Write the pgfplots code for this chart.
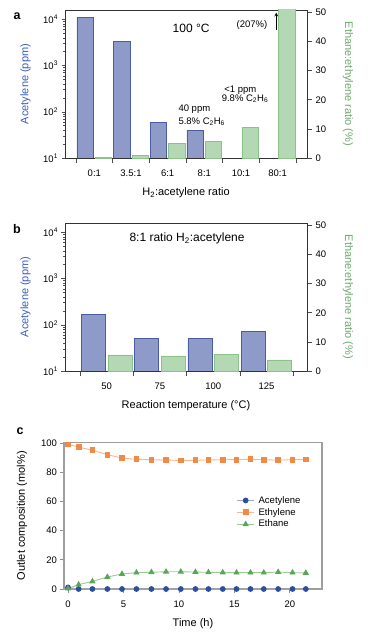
\documentclass[border=0pt]{standalone}
\usepackage{pgfplots}
\pgfplotsset{compat=1.18}
\usepackage{fontspec}
\setmainfont{Liberation Sans}
\definecolor{barblue}{HTML}{8E9BC8}
\definecolor{edgeblue}{HTML}{4B5CA5}
\definecolor{bargreen}{HTML}{B4D8B3}
\definecolor{edgegreen}{HTML}{8CC28A}
\definecolor{labblue}{HTML}{3A5DB9}
\definecolor{labgreen}{HTML}{6BAA6B}
\definecolor{cblue}{HTML}{2E4D9E}
\definecolor{cbluel}{HTML}{9DAAD6}
\definecolor{corange}{HTML}{F08A44}
\definecolor{corangel}{HTML}{F6B894}
\definecolor{cgreen}{HTML}{5BA55B}
\definecolor{cgreenl}{HTML}{9CCC94}
\newcommand{\tfont}{\fontsize{9.5}{11}\selectfont}
\newcommand{\lfont}{\fontsize{11}{13}\selectfont}
\pgfplotsset{
  barpanel/.style={scale only axis, width=242pt, height=148pt,
    axis line style={black!80, line width=0.6pt},
    tick style={black!70, line width=0.6pt}, tick align=outside,
    ticklabel style={font=\tfont},
    /pgf/number format/assume math mode=true, clip=true,
    label style={font=\lfont}},
  leftlabel/.style={ylabel={Acetylene (ppm)},
    ylabel style={at={(rel axis cs:-0.163,0.5)}, anchor=center, color=labblue}},
  rightlin/.style={ymin=0, ymax=50.8, axis x line*=bottom, axis y line*=right,
    ytick={0,10,...,50}, major tick length=5pt,
    x tick label as interval,
    xticklabel style={yshift=-3pt},
    xlabel style={at={(rel axis cs:0.5,-0.236)}, anchor=center},
    ylabel={Ethane:ethylene ratio (\%)},
    ylabel style={at={(rel axis cs:1.169,0.5)}, anchor=center, rotate=180, color=labgreen}},
  bblue/.style={ybar, bar width=0.45, bar shift=-0.25, fill=barblue, draw=edgeblue, line width=0.7pt},
  bgreen/.style={ybar, bar width=0.45, bar shift=0.25, fill=bargreen, draw=edgegreen, line width=0.7pt},
}
\begin{document}
\begin{tikzpicture}
\path[use as bounding box] (0,0) rectangle (367pt,-636pt);
% ---------- panel a ----------
\begin{axis}[barpanel, leftlabel, at={(65pt,-10pt)}, anchor=north west,
  ymode=log, ymin=10, ymax=16000,
  ytick={10,100,1000,10000},
  yticklabels={10\textsuperscript{1},10\textsuperscript{2},10\textsuperscript{3},10\textsuperscript{4}},
  ytick pos=left, major tick length=3.5pt, minor tick length=2pt,
  xmin=-0.8, xmax=5.8, xtick=\empty]
\addplot[bblue] coordinates {(0,11000) (1,3400) (2,59) (3,39)};
\end{axis}
\begin{axis}[barpanel, rightlin, at={(65pt,-10pt)}, anchor=north west,
  xmin=-0.8, xmax=5.8,
  xtick={-0.5,0.5,...,5.5}, xticklabels={0:1,3.5:1,6:1,8:1,10:1,80:1},
  xlabel={H\textsubscript{2}:acetylene ratio}]
\addplot[bgreen] coordinates {(0,0.3) (1,1.0) (2,5.0) (3,5.7) (4,10.5) (5,207)};
\node[font=\fontsize{12}{14}\selectfont] at (axis cs:2.64,44.6) {100 °C};
\node[font=\tfont] at (axis cs:4.3,45.6) {(207\%)};
\draw[-stealth, line width=0.7pt] (axis cs:4.96,43.8) -- (axis cs:4.96,49.9);
\node[font=\tfont, anchor=west] at (axis cs:3.45,23.4) {<1 ppm};
\node[font=\tfont, anchor=west] at (axis cs:3.38,20.3) {9.8\% C\textsubscript{2}H\textsubscript{6}};
\node[font=\tfont, anchor=west] at (axis cs:2.2,16.9) {40 ppm};
\node[font=\tfont, anchor=west] at (axis cs:2.2,12.4) {5.8\% C\textsubscript{2}H\textsubscript{6}};
\end{axis}
% ---------- panel b ----------
\begin{axis}[barpanel, leftlabel, at={(65pt,-223pt)}, anchor=north west,
  ymode=log, ymin=10, ymax=16000,
  ytick={10,100,1000,10000},
  yticklabels={10\textsuperscript{1},10\textsuperscript{2},10\textsuperscript{3},10\textsuperscript{4}},
  ytick pos=left, major tick length=3.5pt, minor tick length=2pt,
  xmin=-0.78, xmax=3.76, xtick=\empty]
\addplot[bblue] coordinates {(0,170) (1,50) (2,50) (3,72)};
\end{axis}
\begin{axis}[barpanel, rightlin, at={(65pt,-223pt)}, anchor=north west,
  xmin=-0.78, xmax=3.76,
  xtick={-0.5,0.5,...,3.5}, xticklabels={50,75,100,125},
  xlabel={Reaction temperature (°C)}]
\addplot[bgreen] coordinates {(0,5.5) (1,5.2) (2,5.6) (3,3.8)};
\node[font=\fontsize{12}{14}\selectfont] at (axis cs:1.51,45.6) {8:1 ratio H\textsubscript{2}:acetylene};
\end{axis}
% ---------- panel c ----------
\begin{axis}[scale only axis, width=258pt, height=146.5pt,
  at={(64pt,-442.5pt)}, anchor=north west,
  xmin=-0.36, xmax=22.9, ymin=0, ymax=100.3,
  axis line style={black!38, line width=1.1pt},
  tick style={black!45, line width=0.8pt}, tick align=outside,
  major tick length=3.5pt,
  xtick={0,5,...,20}, ytick={0,20,...,100},
  xtick pos=bottom, ytick pos=left,
  ticklabel style={font=\tfont},
  xticklabel style={yshift=-5pt},
  /pgf/number format/assume math mode=true,
  label style={font=\lfont},
  xlabel={Time (h)}, ylabel={Outlet composition (mol\%)},
  xlabel style={at={(rel axis cs:0.5,-0.239)}, anchor=center},
  ylabel style={at={(rel axis cs:-0.163,0.5)}, anchor=center},
  clip=false,
  legend style={draw=none, fill=none, at={(axis cs:15.1,65)}, anchor=north west,
    font=\tfont, row sep=1.5pt, inner sep=1pt,
    nodes={inner xsep=4pt, inner ysep=1pt}},
  legend cell align=left]
\addplot[cbluel, line width=0.9pt, mark=*, mark size=2.4pt,
  mark options={fill=cblue, draw=cblue}] coordinates {
 (0,1.1) (0.96,0) (2.2,0) (3.55,0) (4.87,0) (6.17,0) (7.52,0) (8.84,0) (10.17,0)
 (11.49,0) (12.66,0) (13.95,0) (15.19,0) (16.45,0) (17.65,0) (18.95,0) (20.24,0) (21.44,0)};
\addlegendentry{Acetylene}
\addplot[corangel, line width=0.9pt, mark=square*, mark size=2.4pt,
  mark options={fill=corange, draw=corange}] coordinates {
 (0,99) (0.96,97.2) (2.2,95) (3.55,92) (4.87,89.6) (6.17,88.8) (7.52,88.5) (8.84,88.3) (10.17,88.0)
 (11.49,88.1) (12.66,88.4) (13.95,88.5) (15.19,88.6) (16.45,88.8) (17.65,88.6) (18.95,88.2) (20.24,88.6) (21.44,88.7)};
\addlegendentry{Ethylene}
\addplot[cgreenl, line width=0.9pt, mark=triangle*, mark size=2.8pt,
  mark options={fill=cgreen, draw=cgreen}] coordinates {
 (0,0.3) (0.96,3.0) (2.2,5.2) (3.55,8.2) (4.87,10.3) (6.17,11.2) (7.52,11.5) (8.84,11.8) (10.17,11.8)
 (11.49,11.6) (12.66,11.4) (13.95,11.3) (15.19,11.2) (16.45,11.2) (17.65,11.2) (18.95,11.6) (20.24,11.2) (21.44,11.0)};
\addlegendentry{Ethane}
\end{axis}
% panel letters
\node[font=\fontsize{12.5}{14}\selectfont\bfseries] at (17pt,-16pt) {a};
\node[font=\fontsize{12.5}{14}\selectfont\bfseries] at (17pt,-229pt) {b};
\node[font=\fontsize{12.5}{14}\selectfont\bfseries] at (20pt,-431pt) {c};
\end{tikzpicture}
\end{document}
